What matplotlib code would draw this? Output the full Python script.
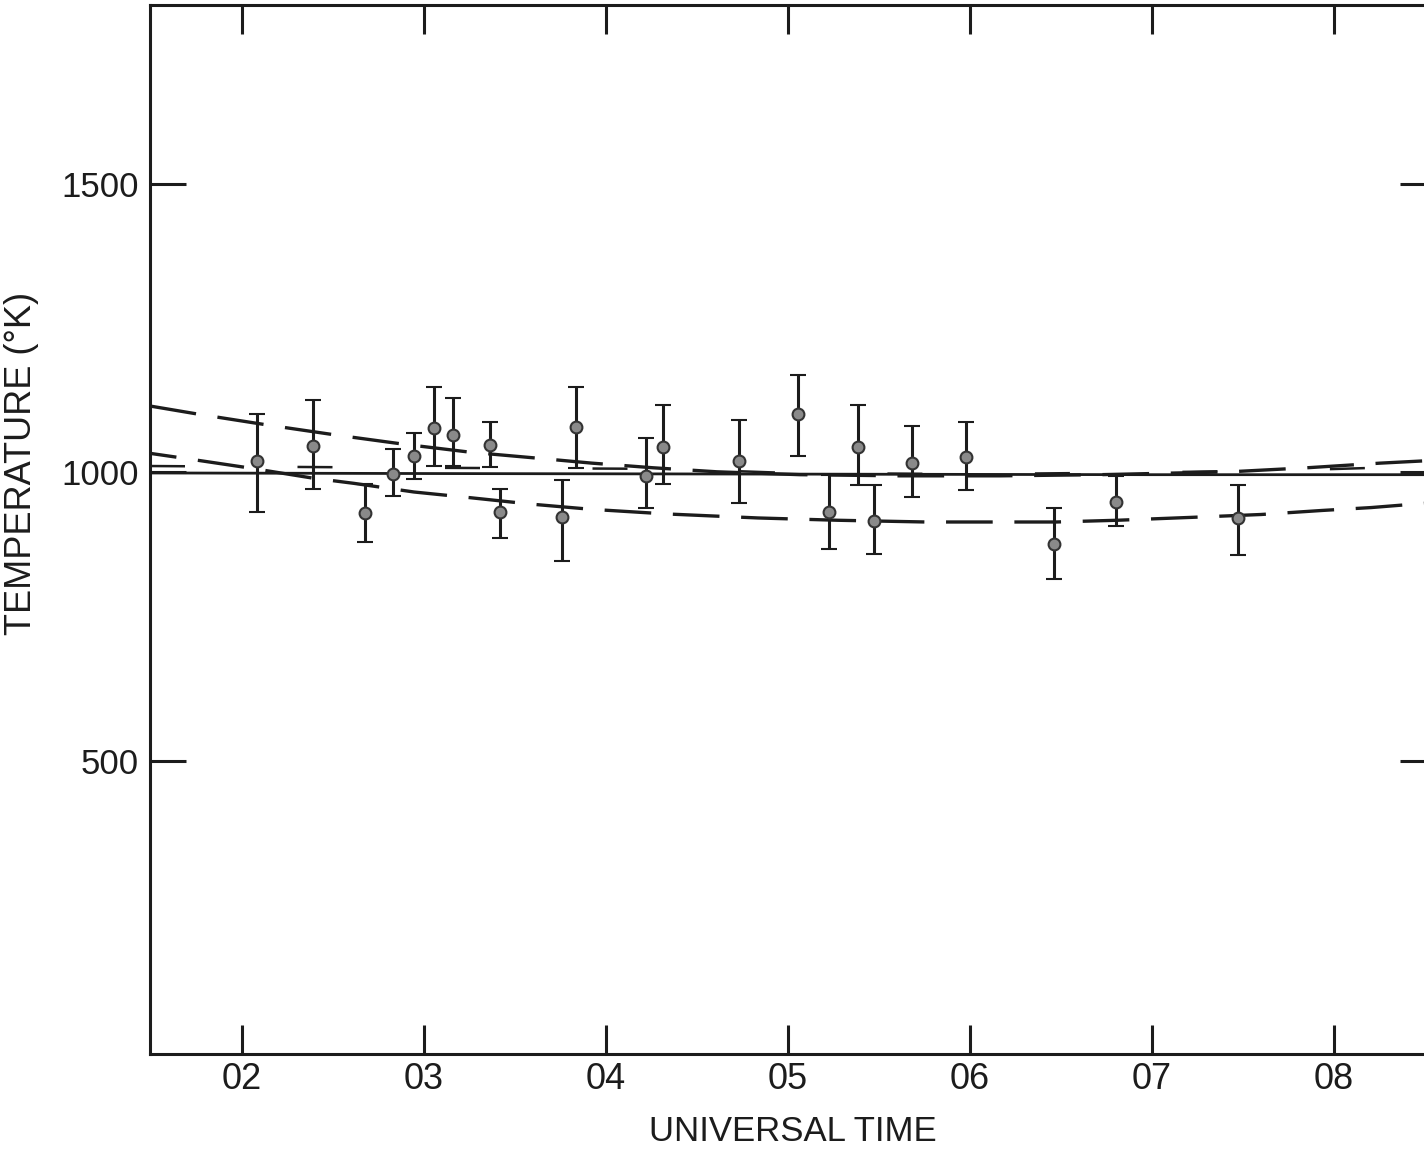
import matplotlib
matplotlib.use("Agg")
import matplotlib.pyplot as plt

plt.rcParams['font.family'] = ['Liberation Sans Narrow', 'Liberation Sans', 'DejaVu Sans']

# measured temperatures (deg K) with asymmetric error bars
ut_hours = [2.082, 2.390, 2.676, 2.830, 2.945, 3.055, 3.159, 3.363, 3.418, 3.835,
            3.758, 4.220, 4.313, 4.731, 5.055, 5.225, 5.385, 5.473, 5.681, 5.978,
            6.462, 6.802, 7.473]
temp = [1020, 1046, 930, 997, 1029, 1077, 1065, 1048, 932, 1079,
        923, 994, 1044, 1020, 1101, 932, 1044, 916, 1016, 1027,
        876, 949, 921]
err_hi = [81, 80, 50, 44, 39, 71, 64, 40, 39, 69,
          64, 66, 73, 71, 68, 64, 73, 62, 65, 61,
          62, 45, 57]
err_lo = [88, 75, 50, 38, 40, 66, 54, 38, 46, 71,
          76, 56, 64, 73, 72, 65, 66, 57, 58, 57,
          61, 42, 64]

# model curves
solid_t = [1.495, 3.0, 5.0, 7.0, 8.56]
solid_T = [999, 998, 997, 996, 996]

upper_t = [1.495, 1.758, 2.143, 2.511, 2.885, 3.253, 3.610, 3.923, 4.258, 4.610,
           5.066, 5.615, 6.165, 6.714, 7.429, 7.852, 8.253, 8.56]
upper_T = [1115, 1101, 1082, 1065, 1049, 1035, 1025, 1016, 1008, 1001,
           996, 994, 994, 996, 1001, 1008, 1016, 1021]

lower_t = [1.495, 1.714, 2.055, 2.390, 2.615, 2.945, 3.258, 3.588, 3.918, 4.330,
           4.835, 5.275, 5.758, 6.473, 6.808, 7.214, 7.599, 7.934, 8.203, 8.56]
lower_T = [1033, 1023, 1007, 990, 981, 966, 956, 945, 936, 928,
           921, 917, 914, 914, 917, 922, 927, 934, 939, 948]

middle_t = [1.495, 3.0, 4.37, 5.0, 6.0, 7.0, 7.8, 8.56]
middle_T = [1011, 1008, 1006, 999, 997, 1000, 1004, 1011]

xticks = [2, 3, 4, 5, 6, 7, 8]
xticklabels = ['02', '03', '04', '05', '06', '07', '08']
yticks = [500, 1000, 1500]

ink = '#1c1c1c'

fig = plt.figure(figsize=(14.24, 11.5), dpi=100)
ax = fig.add_axes([150 / 1424, 96 / 1150, 1286 / 1424, 1049 / 1150])

ax.plot(solid_t, solid_T, color=ink, lw=2.0)
ax.plot(upper_t, upper_T, color=ink, lw=2.4, linestyle=(0, (14, 6.5)))
ax.plot(lower_t, lower_T, color=ink, lw=2.4, linestyle=(6, (14, 6.5)))
ax.plot(middle_t, middle_T, color=ink, lw=1.8, linestyle=(0, (14, 45)))

ax.errorbar(ut_hours, temp, yerr=[err_lo, err_hi], fmt='o', color=ink,
            ecolor=ink, elinewidth=2.2, capsize=6, capthick=2.0,
            markersize=8.5, markerfacecolor='#8a8a8a', markeredgecolor='#333333',
            markeredgewidth=1.5, zorder=3)

ax.set_xlim(1.495, 8.56)
ax.set_ylim(-8, 1810)
ax.set_xticks(xticks)
ax.set_xticklabels(xticklabels)
ax.set_yticks(yticks)

for s in ax.spines.values():
    s.set_linewidth(2.2)
    s.set_color(ink)

ax.tick_params(axis='x', direction='in', length=21, width=2.2, color=ink,
               top=True, bottom=True, labelsize=26, pad=6, labelcolor=ink)
ax.tick_params(axis='y', direction='in', length=26, width=2.2, color=ink,
               left=True, right=True, labelsize=25, pad=8, labelcolor=ink)

ax.set_xlabel('UNIVERSAL TIME', fontsize=25, color=ink, labelpad=13)
ax.set_ylabel('TEMPERATURE (°K)', fontsize=26, color=ink)
ax.yaxis.set_label_coords(-0.086, 0.563)

fig.savefig('out.png', dpi=100)
